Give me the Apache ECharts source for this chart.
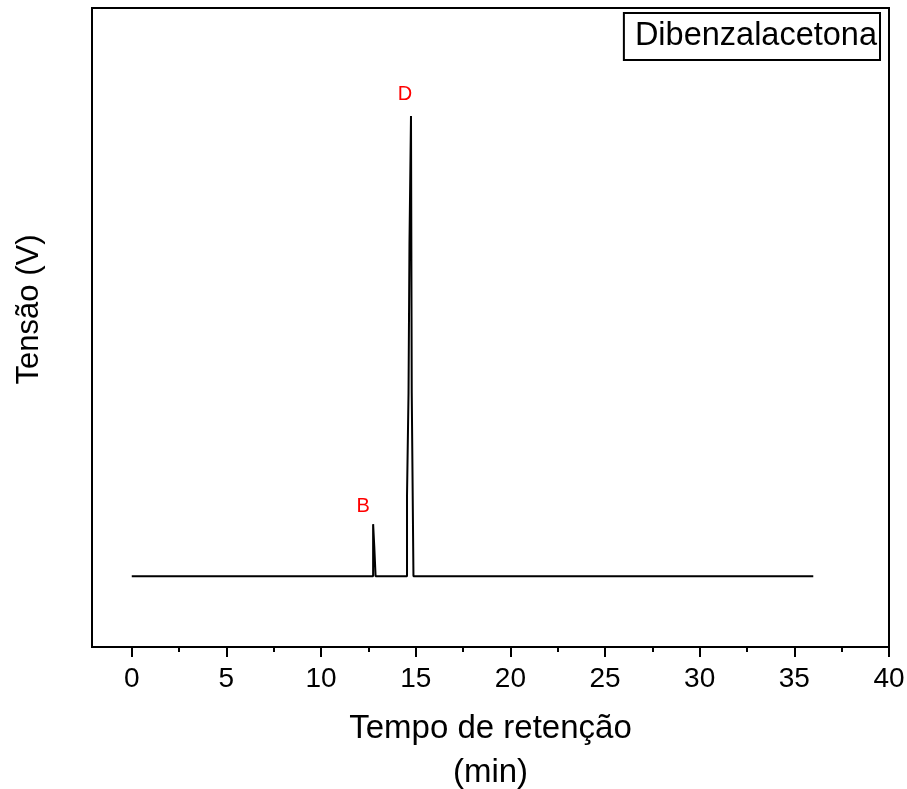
<!DOCTYPE html>
<html>
<head>
<meta charset="utf-8">
<script src="https://cdn.jsdelivr.net/npm/echarts@6/dist/echarts.min.js"></script>
<style>
html,body{margin:0;padding:0;background:#fff;}
#chart{width:907px;height:789px;}
</style>
</head>
<body>
<div id="chart"></div>
<script>
// chromatogram trace (step line)
const retentionTime = [0, 12.75, 12.81, 12.88, 14.54, 14.62, 14.67, 14.75, 14.79, 14.88, 36];
const voltage       = [0, 0.113, 0.065, 0,     0.176, 0.398, 0.724, 1.0,   0.398, 0,     0];

// peak labels
const peakNames = ["B", "D"];
const peakTimes = [12.75, 14.75];
const peakVolts = [0.113, 1.0];

// axis ticks
const majorTicks = [0, 5, 10, 15, 20, 25, 30, 35, 40];
const minorTicks = [2.5, 7.5, 12.5, 17.5, 22.5, 27.5, 32.5, 37.5];

const seriesName = "Dibenzalacetona";

const chart = echarts.init(document.getElementById("chart"));

const font = "Liberation Sans, Arial, sans-serif";
const labelOffsets = [[-10, -18], [-6, -22]];

const option = {
  animation: false,
  backgroundColor: "#fff",
  grid: {
    left: 92, right: 18, top: 8, bottom: 142,
    outerBoundsMode: "none",
    containLabel: false,
    show: true, borderColor: "#000", borderWidth: 2
  },
  legend: {
    data: [{ name: seriesName, icon: "none" }],
    right: 27, top: 13,
    itemWidth: 0, itemGap: 0,
    padding: [7, 3, 7, 6],
    borderColor: "#000", borderWidth: 2,
    textStyle: { fontFamily: font, fontSize: 32.5, color: "#000" }
  },
  xAxis: [
    {
      type: "value",
      min: -2.1, max: 40,
      name: "Tempo de retenção\n(min)",
      nameLocation: "middle",
      nameGap: 60,
      nameTextStyle: { fontFamily: font, fontSize: 33, color: "#000", lineHeight: 44 },
      axisLine: { onZero: false, lineStyle: { color: "#000", width: 2 } },
      axisTick: { customValues: majorTicks, length: 10, lineStyle: { color: "#000", width: 2 } },
      axisLabel: { customValues: majorTicks, margin: 18, fontFamily: font, fontSize: 28, color: "#000" },
      splitLine: { show: false }
    },
    {
      type: "value",
      min: -2.1, max: 40,
      position: "bottom",
      axisLine: { show: false, onZero: false },
      axisTick: { customValues: minorTicks, length: 5, lineStyle: { color: "#000", width: 2 } },
      axisLabel: { show: false },
      splitLine: { show: false }
    }
  ],
  yAxis: {
    type: "value",
    min: -0.154, max: 1.235,
    name: "Tensão (V)",
    nameLocation: "middle",
    nameGap: 47,
    nameTextStyle: { fontFamily: font, fontSize: 31, color: "#000", padding: [0, 0, 0, 36] },
    axisLine: { show: true, onZero: false, lineStyle: { color: "#000", width: 2 } },
    axisTick: { show: false },
    axisLabel: { show: false },
    splitLine: { show: false }
  },
  series: [
    {
      name: seriesName,
      type: "line",
      step: "end",
      xAxisIndex: 0,
      showSymbol: false,
      lineStyle: { color: "#000", width: 2 },
      itemStyle: { color: "#000" },
      data: retentionTime.map((t, i) => [t, voltage[i]]),
      markPoint: {
        symbol: "circle",
        symbolSize: 1,
        itemStyle: { color: "rgba(0,0,0,0)" },
        data: peakNames.map((n, i) => ({
          name: n,
          coord: [peakTimes[i], peakVolts[i]],
          label: {
            show: true,
            formatter: n,
            position: "inside",
            offset: labelOffsets[i],
            color: "#ff0000",
            fontFamily: font,
            fontSize: 20
          }
        }))
      }
    }
  ]
};

chart.setOption(option);
</script>
</body>
</html>
